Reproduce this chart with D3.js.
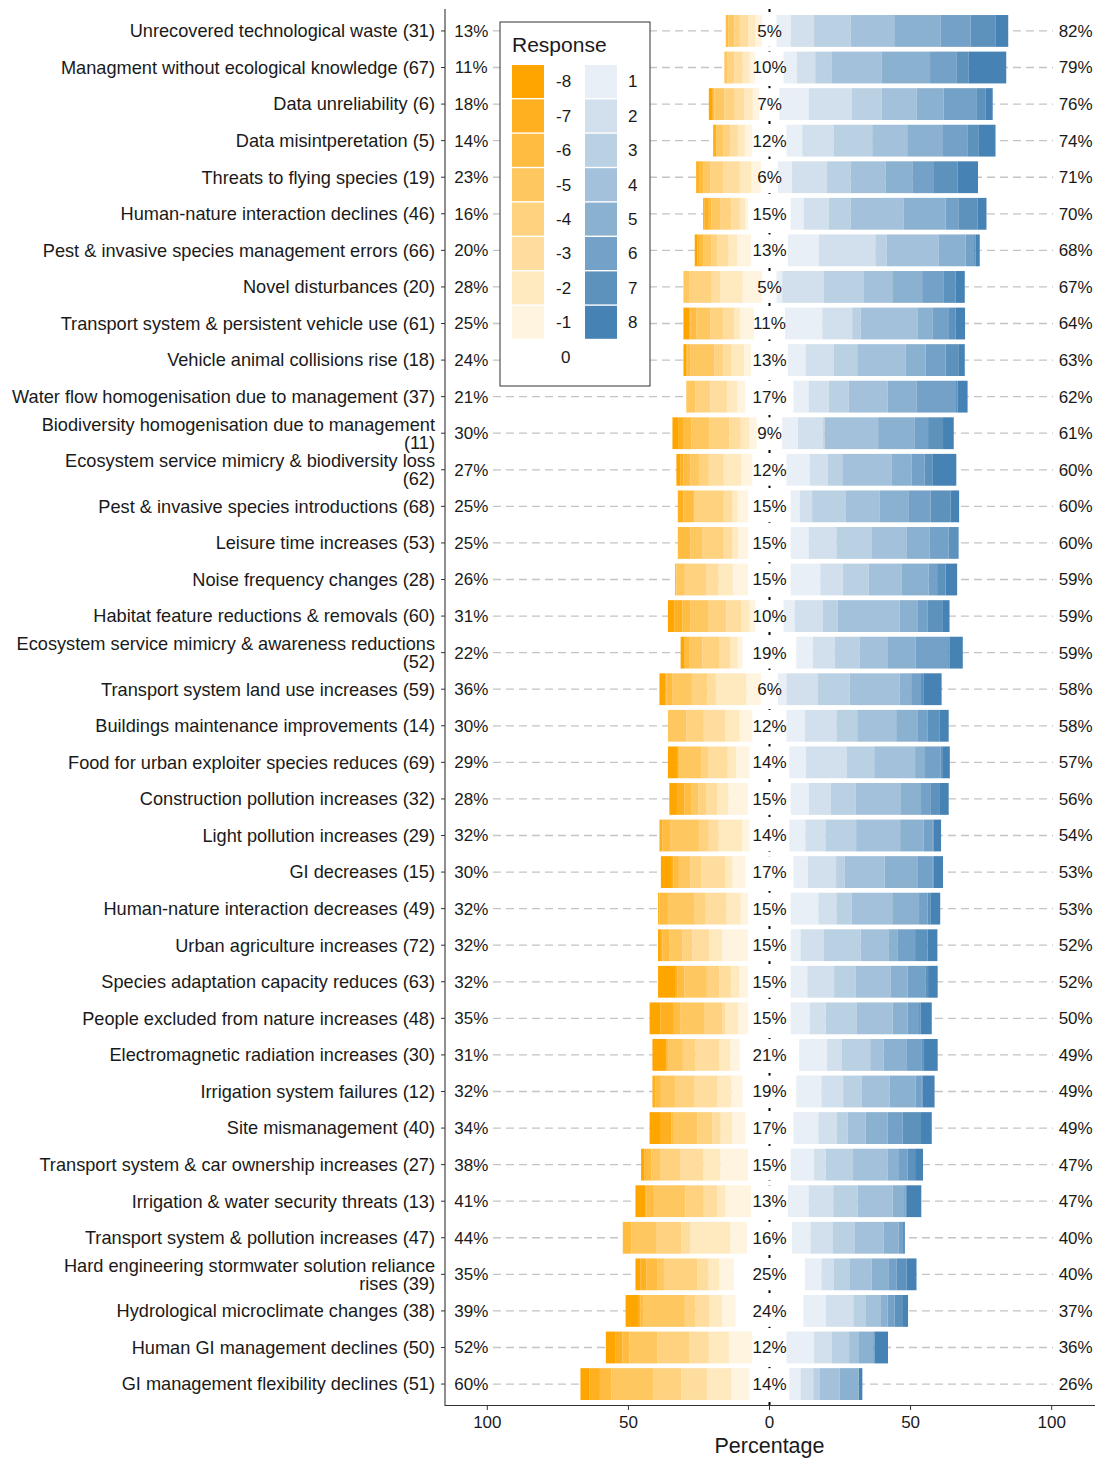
<!DOCTYPE html>
<html><head><meta charset="utf-8">
<script src="https://cdn.jsdelivr.net/npm/d3@7/dist/d3.min.js"></script>
<style>body{margin:0;background:#fff} svg{display:block} text{font-family:"Liberation Sans",Arial,sans-serif}</style>
</head><body><svg id="c" width="1095" height="1459"></svg>
<script>
const categories = [
"Unrecovered technological waste (31)",
"Managment without ecological knowledge (67)",
"Data unreliability (6)",
"Data misintperetation (5)",
"Threats to flying species (19)",
"Human-nature interaction declines (46)",
"Pest & invasive species management errors (66)",
"Novel disturbances (20)",
"Transport system & persistent vehicle use (61)",
"Vehicle animal collisions rise (18)",
"Water flow homogenisation due to management (37)",
"Biodiversity homogenisation due to management\n(11)",
"Ecosystem service mimicry & biodiversity loss\n(62)",
"Pest & invasive species introductions (68)",
"Leisure time increases (53)",
"Noise frequency changes (28)",
"Habitat feature reductions & removals (60)",
"Ecosystem service mimicry & awareness reductions\n(52)",
"Transport system land use increases (59)",
"Buildings maintenance improvements (14)",
"Food for urban exploiter species reduces (69)",
"Construction pollution increases (32)",
"Light pollution increases (29)",
"GI decreases (15)",
"Human-nature interaction decreases (49)",
"Urban agriculture increases (72)",
"Species adaptation capacity reduces (63)",
"People excluded from nature increases (48)",
"Electromagnetic radiation increases (30)",
"Irrigation system failures (12)",
"Site mismanagement (40)",
"Transport system & car ownership increases (27)",
"Irrigation & water security threats (13)",
"Transport system & pollution increases (47)",
"Hard engineering stormwater solution reliance\nrises (39)",
"Hydrological microclimate changes (38)",
"Human GI management declines (50)",
"GI management flexibility declines (51)"
];
// printed percentage labels
const negLabel = [13,11,18,14,23,16,20,28,25,24,21,30,27,25,25,26,31,22,36,30,29,28,32,30,32,32,32,35,31,32,34,38,41,44,35,39,52,60];
const neutral  = [5,10,7,12,6,15,13,5,11,13,17,9,12,15,15,15,10,19,6,12,14,15,14,17,15,15,15,15,21,19,17,15,13,16,25,24,12,14];
const posLabel = [82,79,76,74,71,70,68,67,64,63,62,61,60,60,60,59,59,59,58,58,57,56,54,53,53,52,52,50,49,49,49,47,47,40,40,37,36,26];

// response levels -8 .. -1 (percent)
const m8 = [0,0,1.4,0,0,0.5,1,0,2,1,0,2,1.5,0,0,0,2.4,1.2,2,0,3.5,2.7,0,3.9,0,1,6.3,3.9,4.8,0,4,1.2,3.5,0,1.8,4.7,3.5,3.1];
const m7 = [0,0,0,1.2,1,1.5,0.5,0,0.5,0.5,0,2,1,2,0,0,2.7,0.3,0.5,0,0,2.6,1,0.5,0.5,0.5,0.5,4.4,0,1,3.8,0.5,0.5,0,2.1,0.5,2.4,3.8];
const m6 = [1,0,0.6,0,1.5,1,1.5,0,2,1,0,2.7,2.5,3.7,4.5,0.5,2.8,1.5,2,0,0.5,2.6,3,2,3,2.5,2.5,2.7,1,2,0.5,2,2.5,3,3.8,1,2.4,4.1];
const m5 = [2,1,3.5,2.5,2.5,3,3,2,5,8.5,3.2,6.5,3,0,4.1,3,6.3,4.7,7,6.6,7.8,2.4,10,4,9.5,4.7,8,8.3,5,5,8.6,3,11.2,8.8,2.4,14.8,10,14.8];
const m4 = [2,2.5,3.7,2.5,4.5,4,2,8,4.5,3,5.3,7,3.5,10.6,7.7,7.5,6.5,5.9,5.5,6.1,2.4,2.7,3.5,4,3.9,3.5,4.4,6.5,4.5,7,5.3,7.1,6.5,8.9,11.8,3.8,11.2,10];
const m3 = [3,3,3.4,2.6,6,3,4,3,4,3,5.9,4,5.3,3,3,4.5,5.3,4.1,3,7.7,7,3.9,3.5,8.5,7.4,6,4.1,1,8.3,8,3,8.3,4.7,3.2,4,5,7,9];
const m2 = [2.5,2.5,3,2.5,4,2,3,8,2,4.5,3.6,3,6.2,1.8,2,5,3,2.5,10.8,5,3,4,8.3,2.5,5,4.6,3,4.5,4,5,4,6,3,14.2,3.7,4.4,7.1,8.7];
const m1 = [2.5,2,2.4,2.7,3.5,1,5,7,5,2.5,3,2.7,4,3.9,3.7,5.5,2,1.8,5.2,4.6,4.8,7.1,2.7,4.6,2.7,9.2,3.2,3.7,3.4,4,4.8,9.9,9.1,5.9,5.4,4.8,8.4,6.5];
// response levels 1 .. 8 (percent)
const p1 = [5,4.7,10.4,5.6,5,4.6,11,2,13.2,6.3,5.4,5.6,8.2,3.2,6.4,10.5,3.9,5.9,3,6.5,5.9,6.5,5.7,5.1,9.8,3.5,5.9,6.7,9.9,8.9,8.8,8.3,7.4,6.5,5.9,8,9.8,4];
const p2 = [8.3,6.5,15.3,11.2,12.4,8.9,20,14.8,10.6,10,7.1,8.9,6.5,4.4,9.8,8,10,7.7,11.2,11.2,14.4,7.7,7.1,10,6.4,8.3,9.5,5.7,5.3,7.7,6.5,4.1,8.7,8,4.4,9.7,6.3,4.5];
const p3 = [13,5.9,10.6,13.6,8.3,7.7,4,14.2,3,8.3,7.1,0.5,5.1,11.8,12.6,9.1,5.3,8.9,11.2,7.4,9.8,8.9,10.9,3,5.4,13,7.7,10.9,10,6.5,3.9,9.7,8.6,7.6,5.7,4.5,6.1,2.4];
const p4 = [15.4,17.7,12.4,12.4,12.4,18.9,18.5,10,20.1,17.1,13.8,19,17.4,12.2,12.2,11.8,21.9,10,17.7,13.8,14.5,16,15.6,14.2,14.4,9.8,12.4,12.8,4.7,10,6.4,12.2,12.4,10.4,7.7,5.3,3.5,6.9];
const p5 = [16.5,17.1,9.5,12.4,9.5,14.8,9.5,10.6,5.3,7.1,10.3,13,7.1,10.3,8.3,9.5,6.5,9.8,4.1,7.7,3.5,7.1,8.3,11.8,9.5,3.2,5.9,5.3,8.3,9.2,7.8,4.1,4.1,5.3,5.9,2.4,5,6.7];
const p6 = [10.6,9.5,11.8,8.9,7.7,4.7,3,7.7,5.9,7.1,13.9,4.7,4.7,7.7,6.7,3,3.5,11.5,3.5,3.5,5.6,3.5,3.1,5.1,3,6.3,6.3,4.1,5.3,2,5.2,3,0.5,1.5,3,2.4,0.3,0.1];
const p7 = [8.9,4.1,3,3.9,8.3,6.7,0.5,4.1,2.4,4.7,0.5,5.3,2.7,7.1,3,3,5.1,0.5,1,4.1,0.5,3.2,0.5,0.5,1,4.4,1,0.5,0.5,0.5,6.6,2.7,0.5,0.7,3.5,3,0.2,0.1];
const p8 = [4.4,13.4,2.6,6.1,7.3,3.1,1.5,3.3,3.3,2.1,3.6,3.8,8.5,3,0.5,4.1,2.6,4.7,6.3,3.3,2.7,3.1,2.6,3.3,3.5,3.5,3.4,4,5.1,4.2,3.8,2.8,5.1,0,3.5,1.8,4.8,1.2];

const negSeries = [m1,m2,m3,m4,m5,m6,m7,m8]; // from centre outward
const posSeries = [p1,p2,p3,p4,p5,p6,p7,p8];
const xTicks = [-100,-50,0,50,100];
const legendLeft = [-8,-7,-6,-5,-4,-3,-2,-1,0];
const legendRight = [1,2,3,4,5,6,7,8];

const svg = d3.select("#c");
const x = d3.scaleLinear().domain([-115,115]).range([445,1094]);
const y = d3.scalePoint().domain(categories).range([9,1406]).padding(0.6);
const bh = y.step()*0.87;
const color = v => v<0 ? d3.interpolateRgb("#ffffff","#ffa500")(-v/8)
                 : v>0 ? d3.interpolateRgb("#ffffff","#4682b4")(v/8) : "#ffffff";

// grid lines
svg.append("g").selectAll("line").data(categories).join("line")
  .attr("x1", x(-98)).attr("x2", x(100.5))
  .attr("y1", d=>y(d)).attr("y2", d=>y(d))
  .attr("stroke","#c4c4c4").attr("stroke-width",1.3).attr("stroke-dasharray","8,5");
// zero dotted line
svg.append("line").attr("x1",x(0)).attr("x2",x(0)).attr("y1",9).attr("y2",1406)
  .attr("stroke","#000").attr("stroke-width",2).attr("stroke-dasharray","3,4");

// bars
const gb = svg.append("g");
categories.forEach((c,i)=>{
  const yc = y(c) - bh/2;
  let s = -neutral[i]/2;
  negSeries.forEach((arr,k)=>{
    const v = arr[i];
    if (v>0){ gb.append("rect").attr("x",x(s-v)).attr("width",x(s)-x(s-v)).attr("y",yc).attr("height",bh).attr("fill",color(-(k+1))); }
    s -= v;
  });
  gb.append("rect").attr("x",x(-neutral[i]/2)).attr("width",x(neutral[i]/2)-x(-neutral[i]/2)).attr("y",yc).attr("height",bh).attr("fill","#fff");
  let t = neutral[i]/2;
  posSeries.forEach((arr,k)=>{
    const v = arr[i];
    if (v>0){ gb.append("rect").attr("x",x(t)).attr("width",x(t+v)-x(t)).attr("y",yc).attr("height",bh).attr("fill",color(k+1)); }
    t += v;
  });
});

// percentage labels
const gl = svg.append("g").attr("font-size",17).attr("fill","#1a1a1a").attr("text-anchor","middle");
categories.forEach((c,i)=>{
  gl.append("text").attr("x",x(-105.7)).attr("y",y(c)).attr("dy","0.35em").text(negLabel[i]+"%");
  gl.append("text").attr("x",x(0)).attr("y",y(c)).attr("dy","0.35em").text(neutral[i]+"%");
  gl.append("text").attr("x",x(108.5)).attr("y",y(c)).attr("dy","0.35em").text(posLabel[i]+"%");
});

// axes
svg.append("line").attr("x1",445).attr("x2",445).attr("y1",9).attr("y2",1406).attr("stroke","#333").attr("stroke-width",1.1);
svg.append("line").attr("x1",445).attr("x2",1095).attr("y1",1405.5).attr("y2",1405.5).attr("stroke","#333").attr("stroke-width",1.1);
const gy = svg.append("g").attr("font-size",18.2).attr("fill","#1a1a1a").attr("text-anchor","end");
categories.forEach(c=>{
  gy.append("line").attr("x1",441).attr("x2",445).attr("y1",y(c)).attr("y2",y(c)).attr("stroke","#333");
  const lines = c.split("\n");
  const t = gy.append("text").attr("x",435).attr("y",y(c) - (lines.length-1)*9);
  lines.forEach((ln,j)=>{ t.append("tspan").attr("x",435).attr("dy", j===0?"0.35em":"18px").text(ln); });
});
const gx = svg.append("g").attr("font-size",17).attr("fill","#1a1a1a").attr("text-anchor","middle");
xTicks.forEach(v=>{
  gx.append("line").attr("x1",x(v)).attr("x2",x(v)).attr("y1",1406).attr("y2",1410).attr("stroke","#333");
  gx.append("text").attr("x",x(v)).attr("y",1428).text(Math.abs(v));
});
svg.append("text").attr("x",x(0)).attr("y",1453).attr("text-anchor","middle").attr("font-size",21.5).attr("fill","#1a1a1a").text("Percentage");

// legend
const lg = svg.append("g");
lg.append("rect").attr("x",500).attr("y",22).attr("width",150).attr("height",364).attr("fill","#fff").attr("stroke","#333").attr("stroke-width",1);
lg.append("text").attr("x",512).attr("y",52).attr("font-size",21).attr("fill","#1a1a1a").text("Response");
const pitch = 34.4;
legendLeft.forEach((v,j)=>{
  lg.append("rect").attr("x",512).attr("y",65+j*pitch).attr("width",32).attr("height",33).attr("fill",color(v));
  lg.append("text").attr("x",v===0?561:556).attr("y",65+j*pitch+16.5).attr("dy","0.35em").attr("font-size",17).attr("fill","#1a1a1a").text(v);
});
legendRight.forEach((v,j)=>{
  lg.append("rect").attr("x",585).attr("y",65+j*pitch).attr("width",32).attr("height",33).attr("fill",color(v));
  lg.append("text").attr("x",628).attr("y",65+j*pitch+16.5).attr("dy","0.35em").attr("font-size",17).attr("fill","#1a1a1a").text(v);
});
</script></body></html>
